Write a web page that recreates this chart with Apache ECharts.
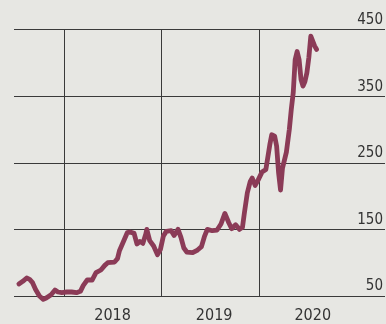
<!DOCTYPE html>
<html>
<head>
<meta charset="utf-8">
<script src="https://cdn.jsdelivr.net/npm/echarts@6/dist/echarts.min.js"></script>
<style>
html,body{margin:0;padding:0;background:#e7e7e3;}
#c{width:386px;height:324px;}
</style>
</head>
<body>
<div id="c"></div>
<script>
// Decimal-year positions of the points
const dates = [2017.54,2017.58,2017.62,2017.65,2017.68,2017.71,2017.75,2017.79,2017.82,2017.87,2017.91,2017.94,2017.98,
2018.03,2018.08,2018.13,2018.17,2018.20,2018.24,2018.29,2018.33,2018.38,2018.42,2018.45,2018.52,2018.55,2018.57,2018.60,
2018.65,2018.68,2018.72,2018.75,2018.78,2018.81,2018.84,2018.85,2018.88,2018.92,2018.96,2018.99,
2019.02,2019.05,2019.10,2019.13,2019.17,2019.20,2019.23,2019.26,2019.32,2019.37,2019.41,2019.44,2019.47,2019.52,2019.57,
2019.61,2019.65,2019.69,2019.72,2019.76,2019.80,2019.83,2019.85,2019.88,2019.91,2019.93,2019.96,2019.99,
2020.03,2020.07,2020.11,2020.13,2020.16,2020.18,2020.20,2020.22,2020.24,2020.28,2020.31,2020.33,2020.35,2020.37,2020.39,
2020.41,2020.43,2020.45,2020.47,2020.49,2020.51,2020.53,2020.55,2020.57,2020.59];
const values = [68,72,77,75,70,60,50,45,47,52,59,56,55,
56,56,55,57,66,74,74,85,89,96,100,101,106,118,128,
145,146,144,128,132,129,143,150,133,125,112,120,
140,147,148,141,150,138,122,116,115,119,124,139,150,148,149,
158,174,160,151,157,150,153,175,205,222,227,216,224,
236,240,277,292,290,275,235,209,242,266,300,330,355,405,417,
405,375,365,372,385,408,440,442,425,420];
const yearBoundaries = [2018, 2019, 2020];
const yearLabelPositions = [2018.5, 2019.54, 2020.55];
const yTicks = [50, 150, 250, 350, 450];

const chart = echarts.init(document.getElementById('c'), null, {renderer:'canvas'});
const seriesData = dates.map((d, i) => [d, values[i]]);
const font = "'Liberation Sans Narrow','DejaVu Sans Condensed',sans-serif";
chart.setOption({
  backgroundColor: '#e7e7e3',
  animation: false,
  grid: {left: 14, right: 0, top: 29.5, bottom: 28, containLabel: false},
  xAxis: {
    type: 'value', min: 2017.49, max: 2021.29,
    axisLine: {show: false}, axisTick: {show: false}, splitLine: {show: false},
    axisLabel: {
      customValues: yearLabelPositions,
      formatter: v => String(Math.floor(v)),
      fontSize: 16, fontFamily: font, color: '#333', margin: 12
    }
  },
  yAxis: {
    type: 'value', position: 'right', min: yTicks[0], max: yTicks[yTicks.length-1], interval: 100,
    axisLine: {show: false}, axisTick: {show: false},
    splitLine: {show: true, lineStyle: {color: '#3a3a3a', width: 1}},
    axisLabel: {inside: true, margin: 2, verticalAlign: 'bottom', fontSize: 15, fontFamily: font, color: '#333', padding: [0,0,2,0]}
  },
  series: [
    {
      type: 'line', data: seriesData, showSymbol: false, clip: false,
      lineStyle: {color: '#8b3b57', width: 4.8, join: 'round', cap: 'round'},
      z: 5,
      markLine: {
        silent: true, symbol: ['none','none'], label: {show: false},
        lineStyle: {color: '#3a3a3a', width: 1, type: 'solid'},
        data: yearBoundaries.map(y => [{coord: [y, yTicks[0]]}, {coord: [y, yTicks[yTicks.length-1]]}])
      }
    }
  ]
});
</script>
</body>
</html>
